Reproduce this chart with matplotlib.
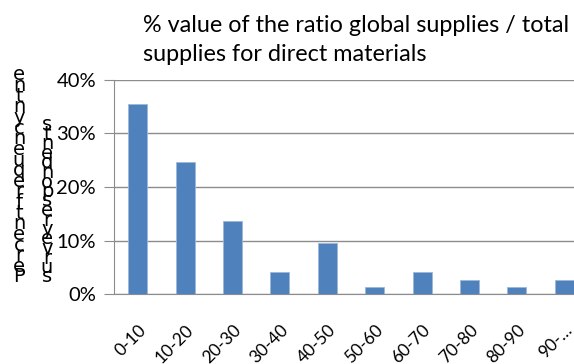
import matplotlib
matplotlib.use("Agg")
import matplotlib.pyplot as plt
from matplotlib.ticker import PercentFormatter

categories = ["0-10", "10-20", "20-30", "30-40", "40-50", "50-60", "60-70", "70-80", "80-90", "90-…"]
values = [35.6, 24.7, 13.7, 4.1, 9.6, 1.4, 4.1, 2.7, 1.4, 2.7]
yticks = [0, 10, 20, 30, 40]
title_line1 = "% value of the ratio global supplies / total"
title_line2 = "supplies for direct materials"
ylabel_outer = "Percentfrequencyntne"
ylabel_inner = "surveyrespondents"

W, H = 574, 364
fig = plt.figure(figsize=(W / 100, H / 100), dpi=100)
fam = ["Lato", "DejaVu Sans"]

ax = fig.add_axes([114 / W, (H - 294) / H, 474 / W, 214 / H])
x = range(len(categories))
ax.bar(x, values, width=0.4, color="#4F81BD", edgecolor="#9db7da", linewidth=0.6, zorder=3)
ax.set_xlim(-0.5, len(categories) - 0.5)
ax.set_ylim(0, 40)
ax.set_yticks(yticks)
ax.yaxis.set_major_formatter(PercentFormatter(decimals=0))
ax.set_xticks(list(x))
ax.set_xticklabels(categories, rotation=45, ha="right", rotation_mode="anchor", fontsize=12.5, family=fam)
for lab in ax.get_yticklabels():
    lab.set_family(fam)
    lab.set_fontsize(14.5)
ax.grid(axis="y", color="#8c8c8c", linewidth=1.0, zorder=0)
for s in ["top", "right"]:
    ax.spines[s].set_visible(False)
ax.spines["left"].set_color("#8c8c8c")
ax.spines["bottom"].set_color("#8c8c8c")
ax.tick_params(axis="y", length=7, color="#8c8c8c", pad=6)
ax.tick_params(axis="x", length=0, pad=20)

fig.text(143 / W, 1 - 32 / H, title_line1, fontsize=16.8, family=fam, va="baseline", ha="left")
fig.text(143 / W, 1 - 61 / H, title_line2, fontsize=16.8, family=fam, va="baseline", ha="left")

# stacked (reversed) vertical axis-title letters
narrow = ["Liberation Sans Narrow", "DejaVu Sans"]
n1 = len(ylabel_outer)
for i, ch in enumerate(reversed(ylabel_outer)):
    yc = 75 + i * (202 / (n1 - 1))
    fig.text(19 / W, 1 - yc / H, ch, fontsize=14, family=narrow, ha="center", va="center")
n2 = len(ylabel_inner)
for i, ch in enumerate(reversed(ylabel_inner)):
    yc = 125 + i * (152 / (n2 - 1))
    fig.text(47 / W, 1 - yc / H, ch, fontsize=14, family=narrow, ha="center", va="center")

fig.savefig("out.png", dpi=100)
